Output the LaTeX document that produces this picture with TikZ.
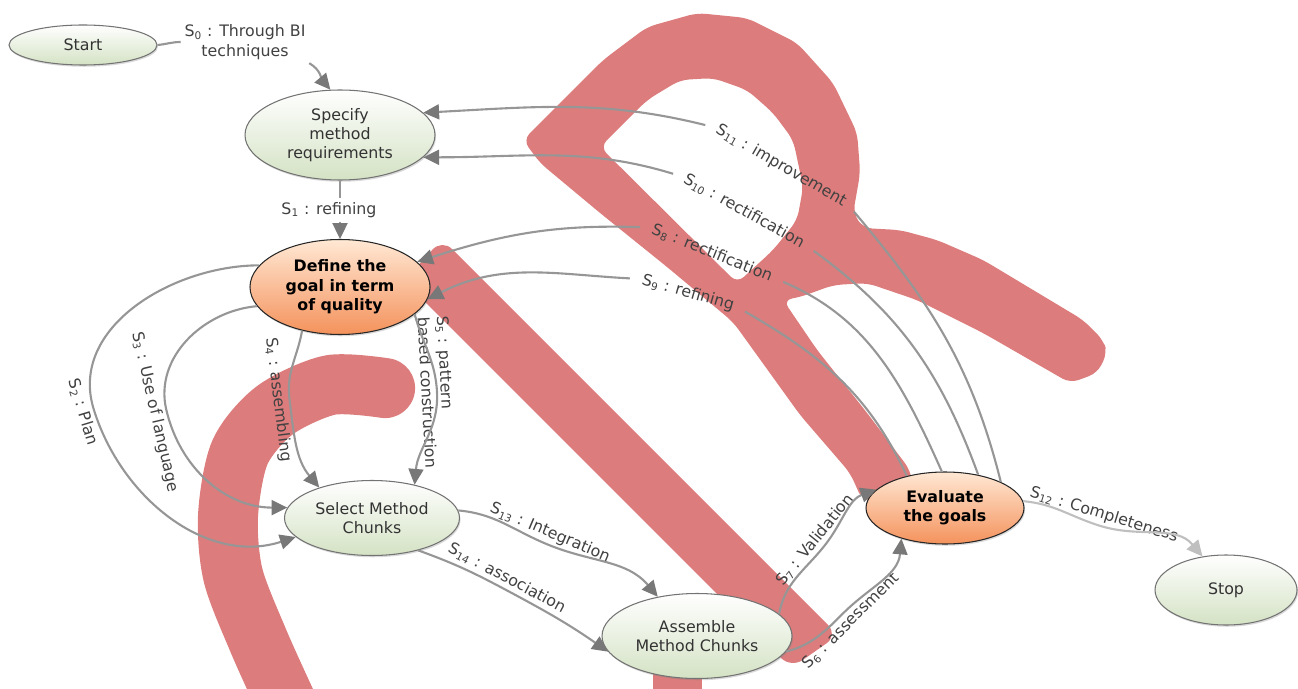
\documentclass[tikz,border=0pt]{standalone}
\usepackage{fontspec}
\setmainfont{DejaVu Sans}
\usepackage{tikz}
\usetikzlibrary{arrows.meta, shapes.geometric, shadows}
\newcommand{\Sx}[1]{S\textsubscript{#1}}
\definecolor{wmred}{RGB}{221,124,124}
\definecolor{linegray}{RGB}{150,150,150}
\definecolor{tipgray}{RGB}{120,120,120}
\definecolor{labgray}{RGB}{65,65,65}
\definecolor{greenlo}{RGB}{212,226,196}
\definecolor{orangehi}{RGB}{255,232,212}
\definecolor{orangelo}{RGB}{244,146,92}

\begin{document}
\begin{tikzpicture}[
  task/.style={ellipse, draw=black!55, line width=0.6pt, top color=white, bottom color=greenlo, inner sep=0pt, align=center, text=black!80, font=\fontsize{9}{11}\selectfont, drop shadow={shadow xshift=0.6pt, shadow yshift=-1pt, opacity=0.3}},
  goal/.style={task, draw=black!85, top color=orangehi, bottom color=orangelo, text=black, font=\fontsize{9}{11}\selectfont\bfseries},
  lab/.style={font=\fontsize{9}{11}\selectfont, text=labgray, inner sep=2pt, align=center},
  link/.style={draw=linegray, line width=1.2pt},
  flow/.style={link, -{Triangle[length=9pt, width=8.5pt, color=tipgray]}},
  flowlight/.style={draw=black!25, line width=1.2pt, -{Triangle[length=9pt, width=8.5pt, color=black!25]}}]
\useasboundingbox (0,0) rectangle (25.96,13.76);

% watermark, drawn first
\begin{scope}[shift={(0,13.76)}, x=0.02cm, y=-0.02cm]
\fill[wmred, rounded corners=8pt] (404,281) -- (442,239) -- (838,635) -- (791,668) -- cycle;
\fill[wmred, even odd rule, rounded corners=5pt]
  (523,140) -- (603,60) -- (647,27) -- (697,13) -- (747,18) -- (797,43) -- (833,83) -- (857,133) -- (860,173) -- (853,213)
  -- (863,228) -- (900,230) -- (937,240) -- (983,260) -- (1033,290) -- (1083,320) -- (1103,340) -- (1107,353) -- (1097,373) -- (1070,383)
  -- (983,333) -- (917,300) -- (867,283) -- (833,285) -- (800,297) -- (783,300) -- (817,350) -- (867,413) -- (910,470) -- (915,500)
  -- (862,500) -- (850,473) -- (800,415) -- (733,322) -- (667,267) -- (600,213) -- (540,163) -- cycle
  (600,147) -- (647,100) -- (680,80) -- (713,78) -- (747,90) -- (773,113) -- (793,140) -- (803,187) -- (797,220) -- (773,250) -- (737,283) -- cycle;
\draw[wmred, line width=1.2cm, line cap=round] plot[smooth] coordinates {(385,388) (330,385) (275,410) (240,452) (228,515) (233,575) (258,640) (285,700)};
\fill[wmred] (653,660) rectangle (702,690);
\end{scope}

\node[task, minimum width=2.96cm, minimum height=0.8cm] (Start) at (1.66,12.86) {Start};
\node[task, minimum width=3.8cm, minimum height=1.8cm] (Spec) at (6.8,11.06) {Specify\\method\\requirements};
\node[goal, minimum width=3.6cm, minimum height=1.9cm] (Def) at (6.8,8.02) {Define the\\goal in term\\of quality};
\node[task, minimum width=3.5cm, minimum height=1.5cm] (Sel) at (7.44,3.4) {Select Method\\Chunks};
\node[task, minimum width=3.8cm, minimum height=1.7cm] (Asm) at (13.94,1.04) {Assemble\\Method Chunks};
\node[goal, minimum width=3.16cm, minimum height=1.44cm] (Eval) at (18.9,3.6) {Evaluate\\the goals};
\node[task, minimum width=2.84cm, minimum height=1.4cm] (Stop) at (24.52,1.96) {Stop};

\node[lab] (s0) at (4.9,12.92) {\Sx{0} : Through BI\\techniques};
\node[lab] (s1) at (6.58,9.56) {\Sx{1} : refining};
\node[lab, rotate=-73] (s2) at (1.66,5.52) {\Sx{2} : Plan};
\node[lab, rotate=-77] (s3) at (3.1,5.52) {\Sx{3} : Use of language};
\node[lab, rotate=-83] (s4) at (5.56,5.76) {\Sx{4} : assembling};
\node[lab, rotate=-87, align=left] (s5) at (8.74,5.92) {\Sx{5} : pattern\\based construction};
\node[lab, rotate=-23] (s13) at (11.0,3.1) {\Sx{13} : Integration};
\node[lab, rotate=-28] (s14) at (10.14,2.2) {\Sx{14} : association};
\node[lab, rotate=51] (s7) at (16.3,2.96) {\Sx{7} : Validation};
\node[lab, rotate=45] (s6) at (17.02,1.34) {\Sx{6} : assessment};
\node[lab, rotate=-17] (s12) at (22.08,3.46) {\Sx{12} : Completeness};
\node[lab, rotate=-30] (s11) at (15.62,10.44) {\Sx{11} : improvement};
\node[lab, rotate=-29] (s10) at (14.88,9.54) {\Sx{10} : rectification};
\node[lab, rotate=-22] (s8) at (14.24,8.7) {\Sx{8} : rectification};
\node[lab, rotate=-16] (s9) at (13.76,7.9) {\Sx{9} : refining};

\draw[link] (Start.east) to[out=5,in=180] (s0.west);
\draw[flow] (s0.south east) to[out=-30,in=130] (Spec.102);
\draw[link] (Spec.south) -- (s1.north -| Spec.south);
\draw[flow] (s1.south -| Spec.south) -- (Def.north);

% from Define to Select
\draw[flow] (Def.165) to[out=180,in=107] (s2.north) to[out=-73,in=198] (Sel.194);
\draw[flow] (Def.193) to[out=185,in=103] (s3.north) to[out=-77,in=180] (Sel.173);
\draw[flow] (Def.229) to[out=-100,in=97] (s4.north) to[out=-83,in=130] (Sel.150);
\draw[flow] (Def.-20) to[out=-75,in=93] (s5.center) to[out=-87,in=85] (Sel.38);

\draw[flow] (Sel.5) to[out=-5,in=157] (s13.south) to[out=-23,in=130] (Asm.135);
\draw[flow] (Sel.-35) to[out=-20,in=152] (s14.south) to[out=-28,in=145] (Asm.190);
\draw[flow] (Asm.15) to[out=80,in=-129] (s7.south) to[out=51,in=200] (Eval.165);
\draw[flow] (Asm.-10) to[out=15,in=-135] (s6.north) to[out=45,in=-95] (Eval.-145);
\draw[flowlight] (Eval.5) to[out=-5,in=163] (s12.south) to[out=-17,in=130] (Stop.125);

% back from Evaluate
\draw[link, shorten >=5pt] (Eval.140) to[out=115,in=-30] (s9.east);
\draw[flow, shorten <=5pt] (s9.west) to[out=177,in=27] (Def.-8);
\draw[link, shorten >=5pt] (Eval.95) to[out=114,in=-23] (s8.east);
\draw[flow, shorten <=5pt] (s8.west) to[out=178,in=18] (Def.18);
\draw[link, shorten >=5pt] (Eval.45) to[out=110,in=-36] (s10.east);
\draw[flow, shorten <=5pt] (s10.west) to[out=163,in=0] (Spec.-15);
\draw[link, shorten >=5pt] (Eval.25) to[out=104,in=-50] (s11.east);
\draw[flow, shorten <=5pt] (s11.west) to[out=166,in=3] (Spec.15);
\end{tikzpicture}
\end{document}
